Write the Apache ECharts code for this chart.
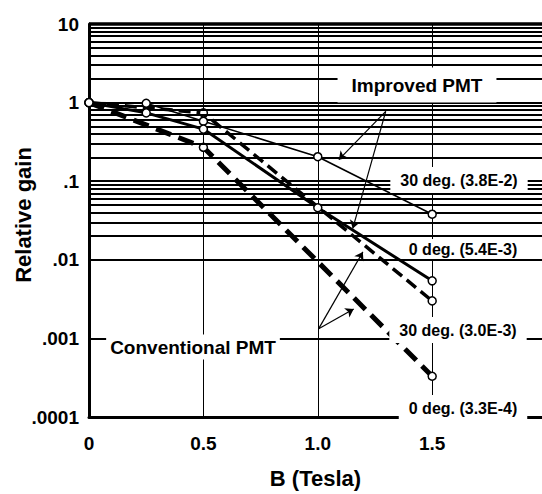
<!DOCTYPE html>
<html>
<head>
<meta charset="utf-8">
<script src="https://cdn.jsdelivr.net/npm/echarts@6/dist/echarts.min.js"></script>
<style>
html,body{margin:0;padding:0;background:#fff;}
#chart{width:542px;height:494px;}
</style>
</head>
<body>
<div id="chart"></div>
<script>
// ---- data ----
const bImproved = [0, 0.25, 0.5, 1.0, 1.5];
const improved30 = [1.0, 0.98, 0.58, 0.205, 0.038];
const improved0 = [1.0, 0.74, 0.46, 0.046, 0.0054];
const bConventional = [0, 0.5, 1.5];
const conventional30 = [1.0, 0.74, 0.0030];
const conventional0 = [1.0, 0.27, 0.00033];

const xTickValues = [0, 0.5, 1.0, 1.5];
const xTickLabels = ['0', '0.5', '1.0', '1.5'];
const yTickValues = [0.0001, 0.001, 0.01, 0.1, 1, 10];
const yTickLabels = ['.0001', '.001', '.01', '.1', '1', '10'];

const xTitle = 'B (Tesla)';
const yTitle = 'Relative gain';

// minor log grid values 2..9 per decade
const minorGrid = [];
for (let d = -4; d <= 0; d++) {
  for (let k = 2; k <= 9; k++) minorGrid.push(+(k * Math.pow(10, d)).toPrecision(3));
}

const FONT = '"Liberation Sans", Arial, Helvetica, sans-serif';
const pair = (xs, ys) => xs.map((x, i) => [x, ys[i]]);

const chart = echarts.init(document.getElementById('chart'), null, {renderer: 'svg'});

const symbolStyle = {color: '#fff', borderColor: '#000', borderWidth: 1.5};

chart.setOption({
  backgroundColor: '#fff',
  animation: false,
  grid: {left: 89, top: 24, right: 0, bottom: 71},
  xAxis: {
    type: 'value', min: 0, max: 1.98, interval: 0.5,
    name: xTitle, nameLocation: 'middle', nameGap: 50,
    nameTextStyle: {fontFamily: FONT, fontWeight: 'bold', fontSize: 22, color: '#000'},
    axisLine: {show: true, lineStyle: {color: '#000', width: 3}},
    axisTick: {show: false},
    axisLabel: {
      margin: 17, fontFamily: FONT, fontWeight: 'bold', fontSize: 19, color: '#000',
      showMaxLabel: false,
      formatter: v => { const i = xTickValues.findIndex(t => Math.abs(t - v) < 1e-9); return i >= 0 ? xTickLabels[i] : ''; }
    },
    splitLine: {show: true, lineStyle: {color: '#000', width: 1}}
  },
  yAxis: {
    type: 'log', logBase: 10, min: 0.0001, max: 10,
    axisLine: {show: true, lineStyle: {color: '#000', width: 3}},
    axisTick: {show: false},
    axisLabel: {
      margin: 10, fontFamily: FONT, fontWeight: 'bold', fontSize: 19, color: '#000',
      formatter: v => { const i = yTickValues.findIndex(t => Math.abs(Math.log10(t) - Math.log10(v)) < 1e-6); return i >= 0 ? yTickLabels[i] : ''; }
    },
    splitLine: {show: true, lineStyle: {color: '#000', width: 2.2}}
  },
  series: [
    {
      type: 'line', data: [], silent: true, z: 1,
      markLine: {
        silent: true, symbol: 'none', animation: false,
        label: {show: false},
        lineStyle: {color: '#000', width: 2, type: 'solid'},
        data: minorGrid.map(v => ({yAxis: v})).concat([{yAxis: 10, lineStyle: {width: 3.5}}])
      }
    },
    {
      name: 'Improved 30 deg', type: 'line', z: 5,
      data: pair(bImproved, improved30),
      symbol: 'circle', symbolSize: 8, itemStyle: symbolStyle,
      lineStyle: {color: '#000', width: 1.6, type: 'solid'}
    },
    {
      name: 'Improved 0 deg', type: 'line', z: 5,
      data: pair(bImproved, improved0),
      symbol: 'circle', symbolSize: 8, itemStyle: symbolStyle,
      lineStyle: {color: '#000', width: 3, type: 'solid'}
    },
    {
      name: 'Conventional 30 deg', type: 'line', z: 4,
      data: pair(bConventional, conventional30),
      symbol: 'circle', symbolSize: 8, itemStyle: symbolStyle,
      lineStyle: {color: '#000', width: 3.5, type: [12, 6]}
    },
    {
      name: 'Conventional 0 deg', type: 'line', z: 4,
      data: pair(bConventional, conventional0),
      symbol: 'circle', symbolSize: 8, itemStyle: symbolStyle,
      lineStyle: {color: '#000', width: 5, type: [16, 8]},
      markLine: {
        silent: true, symbol: ['none', 'arrow'], symbolSize: 8,
        label: {show: false},
        lineStyle: {color: '#000', width: 1.2, type: 'solid'},
        data: [
          [{coord: [1.297, 0.772]}, {coord: [1.092, 0.188]}],
          [{coord: [1.297, 0.772]}, {coord: [1.153, 0.0251]}],
          [{coord: [1.004, 0.00133]}, {coord: [1.197, 0.0126]}],
          [{coord: [1.004, 0.00133]}, {coord: [1.157, 0.00237]}]
        ]
      }
    }
  ],
  graphic: [
    {type: 'text', x: 23, y: 215, rotation: Math.PI / 2, z: 100,
     style: {text: yTitle, font: 'bold 22px ' + FONT, fill: '#000', align: 'center', verticalAlign: 'middle', textAlign: 'center', textVerticalAlign: 'middle'}},
    {type: 'text', x: 417, y: 85, z: 100,
     style: {text: 'Improved PMT', font: 'bold 19px ' + FONT, fill: '#000', backgroundColor: '#fff', padding: [8, 14], align: 'center', verticalAlign: 'middle', textAlign: 'center', textVerticalAlign: 'middle'}},
    {type: 'text', x: 193, y: 347, z: 100,
     style: {text: 'Conventional PMT', font: 'bold 19px ' + FONT, fill: '#000', backgroundColor: '#fff', padding: [3, 4], align: 'center', verticalAlign: 'middle', textAlign: 'center', textVerticalAlign: 'middle'}},
    {type: 'text', x: 459, y: 180, z: 100,
     style: {text: '30 deg. (3.8E-2)', font: 'bold 16px ' + FONT, fill: '#000', backgroundColor: '#fff', padding: [5, 10], align: 'center', verticalAlign: 'middle', textAlign: 'center', textVerticalAlign: 'middle'}},
    {type: 'text', x: 463, y: 249, z: 100,
     style: {text: '0 deg. (5.4E-3)', font: 'bold 16px ' + FONT, fill: '#000', backgroundColor: '#fff', padding: [2, 4], align: 'center', verticalAlign: 'middle', textAlign: 'center', textVerticalAlign: 'middle'}},
    {type: 'text', x: 458, y: 330, z: 100,
     style: {text: '30 deg. (3.0E-3)', font: 'bold 16px ' + FONT, fill: '#000', backgroundColor: '#fff', padding: [5, 10], align: 'center', verticalAlign: 'middle', textAlign: 'center', textVerticalAlign: 'middle'}},
    {type: 'text', x: 463, y: 408, z: 100,
     style: {text: '0 deg. (3.3E-4)', font: 'bold 16px ' + FONT, fill: '#000', backgroundColor: '#fff', padding: [5, 10], align: 'center', verticalAlign: 'middle', textAlign: 'center', textVerticalAlign: 'middle'}}
  ]
});
</script>
</body>
</html>
